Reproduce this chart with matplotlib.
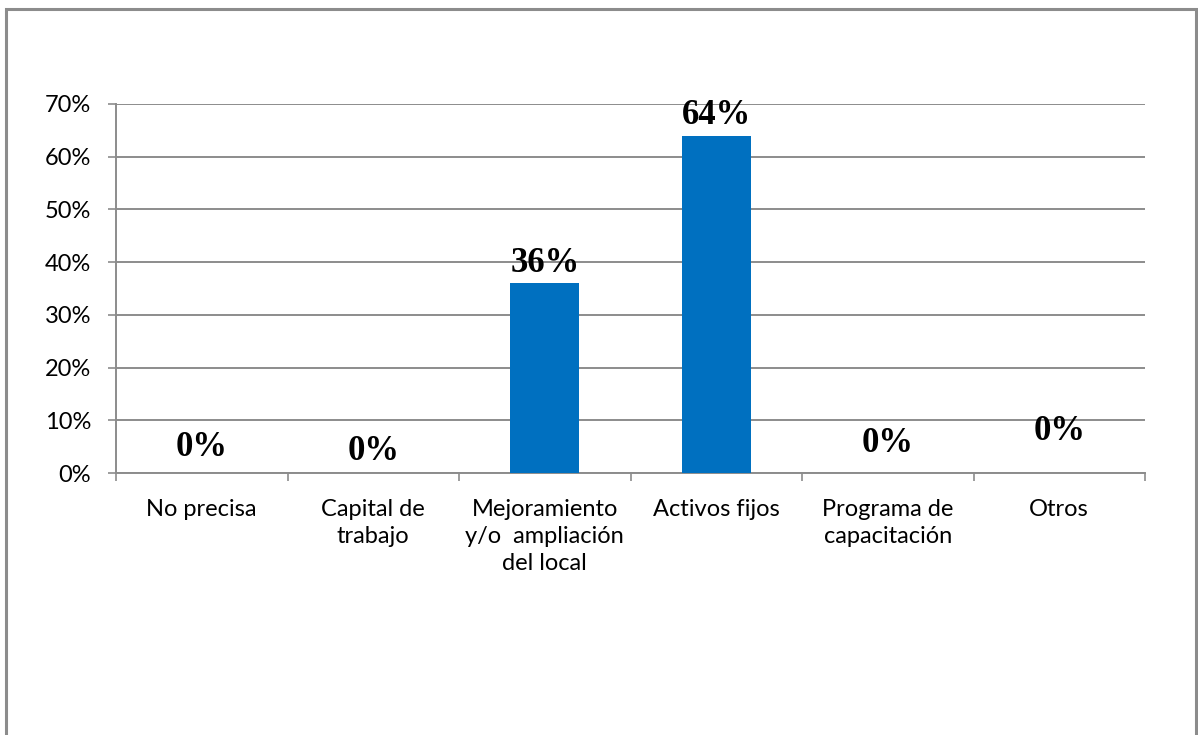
import matplotlib
matplotlib.use("Agg")
import matplotlib.pyplot as plt
from matplotlib.patches import Rectangle
from matplotlib.ticker import FixedLocator

categories = ["No precisa", "Capital de\ntrabajo", "Mejoramiento\ny/o  ampliación\ndel local",
              "Activos fijos", "Programa de\ncapacitación", "Otros"]
values = [0, 0, 36, 64, 0, 0]
yticks = [0, 10, 20, 30, 40, 50, 60, 70]

# labels sit at slightly different heights, as placed in the source chart
label_lift = [4.8, 4.0, 0.6, 0.6, 5.6, 7.8]

GRAY = "#8c8c8c"
BLUE = "#0070C0"

fig = plt.figure(figsize=(11.98, 7.35), dpi=100)
fig.patches.append(Rectangle((6 / 1198, -0.05), 1190 / 1198, 1 - 9 / 735 + 0.05,
                             transform=fig.transFigure, fill=False,
                             edgecolor=GRAY, lw=2.2))

ax = fig.add_axes([116 / 1198, 1 - 473 / 735, 1029 / 1198, 369 / 735])
x = range(len(categories))
ax.bar(x, values, width=0.4, color=BLUE, zorder=3)

for i, v in enumerate(values):
    ax.text(i, v + label_lift[i], f"{v}%", ha="center",
            va="center" if v == 0 else "bottom",
            family="Liberation Serif", fontweight="bold", fontsize=25, zorder=4)

ax.set_xlim(-0.5, len(categories) - 0.5)
ax.set_ylim(0, 70)
ax.set_yticks(yticks)
ax.set_yticklabels([f"{t}%" for t in yticks], family="Lato", fontsize=17)
ax.yaxis.grid(True, color=GRAY, lw=1.4, zorder=0)
ax.tick_params(axis="y", direction="out", length=6, width=1.2, color=GRAY, pad=12)

ax.set_xticks(list(x))
ax.set_xticklabels(categories, family="Lato", fontsize=17, linespacing=1.35, va="top")
ax.xaxis.set_minor_locator(FixedLocator([k - 0.5 for k in range(len(categories) + 1)]))
ax.tick_params(axis="x", which="major", length=0, pad=19)
ax.tick_params(axis="x", which="minor", direction="out", length=6, width=1.2, color=GRAY)

for side in ("top", "right"):
    ax.spines[side].set_visible(False)
for side in ("left", "bottom"):
    ax.spines[side].set_color(GRAY)
    ax.spines[side].set_linewidth(1.4)

fig.savefig("out.png", dpi=100)
